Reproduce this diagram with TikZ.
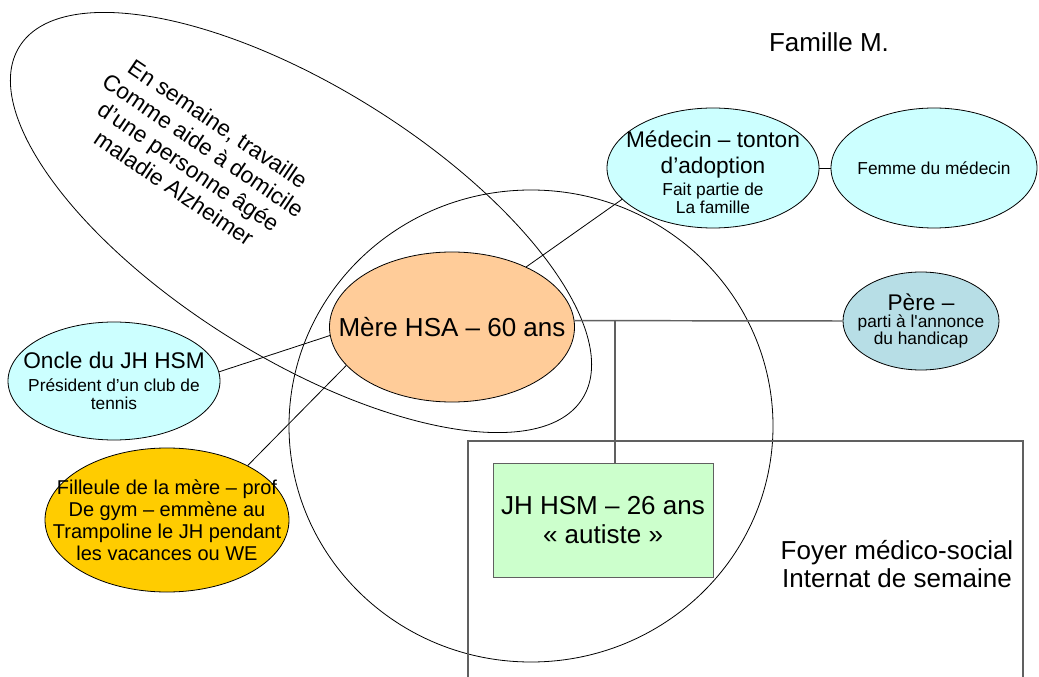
\documentclass[tikz,border=0pt]{standalone}
\usepackage{fontspec}
\setmainfont{Liberation Sans}
\usetikzlibrary{shapes.geometric}
\definecolor{skyfill}{RGB}{204,255,255}
\definecolor{perefill}{RGB}{183,222,230}
\definecolor{merefill}{RGB}{255,204,153}
\definecolor{goldfill}{RGB}{255,204,0}
\definecolor{jhfill}{RGB}{204,255,204}
\definecolor{wiregray}{RGB}{96,96,96}
\newcommand{\sz}[2]{\fontsize{#1}{#2}\selectfont}
\begin{document}
\begin{tikzpicture}[x=0.75pt, y=-0.75pt, line width=0.6pt,
    bubble/.style={ellipse, draw, fill=#1, inner sep=0pt},
    wire/.style={draw=wiregray, line width=1.1pt},
    every label/.style={align=center, inner sep=0pt}]
  \useasboundingbox (0,0) rectangle (1039,677);
  \node[ellipse, draw, rotate=-32, minimum width=498pt, minimum height=203pt] (semaine) at (301,222.5) {};
  \node[ellipse, draw, minimum width=363pt, minimum height=354pt] (home) at (531,426) {};
  \draw[wire] (468,690) |- (1023,441) -- (1023,690);
  \node (famille) at (829,42) {\sz{19.5}{23}Famille M.};
  \node[rotate=-34, align=center, font=\sz{17}{19.5}] (travail) at (196,156)
    {En semaine, travaille\\Comme aide à domicile\\d’une personne âgée\\maladie Alzheimer};
  \node[align=center, font=\sz{19.5}{21}] (foyer) at (897,564) {Foyer médico-social\\Internat de semaine};
  \node[bubble=merefill, minimum width=183.75pt, minimum height=112.5pt,
    label={[font=\sz{19.5}{23}]center:Mère HSA – 60 ans}] (mere) at (452,327) {};
  \node[bubble=skyfill, minimum width=159pt, minimum height=90pt,
    label={[font=\sz{13}{13}, yshift=-3pt]center:{\sz{17}{19.5}Médecin – tonton\\[6.5pt]\sz{17}{19.5}d’adoption\\[4pt]Fait partie de\\La famille}}] (medecin) at (713,168) {};
  \node[bubble=skyfill, minimum width=154.5pt, minimum height=90pt,
    label={[font=\sz{13}{15}]center:Femme du médecin}] (femme) at (934,168) {};
  \node[bubble=perefill, minimum width=117pt, minimum height=73.5pt,
    label={[font=\sz{13}{12.5}]center:{\sz{17}{19}Père –\\parti à l\textquotesingle annonce\\du handicap}}] (pere) at (921,321) {};
  \node[bubble=skyfill, minimum width=159pt, minimum height=88.5pt,
    label={[font=\sz{13}{13.5}]center:{\sz{17}{19}Oncle du JH HSM\\[3.5pt]Président d’un club de\\tennis}}] (oncle) at (114,381) {};
  \node[bubble=goldfill, minimum width=183pt, minimum height=108pt,
    label={[font=\sz{15}{16.5}]center:{Filleule de la mère – prof\\De gym – emmène au\\Trampoline le JH pendant\\les vacances ou WE}}] (filleule) at (167,520) {};
  \node[draw=wiregray, fill=jhfill, minimum width=165pt, minimum height=85.5pt,
    align=center, font=\sz{19.5}{22}] (jh) at (603,520) {JH HSM – 26 ans\\« autiste »};
  \coordinate (fork) at (615,320);
  \draw (medecin) -- (femme);
  \draw (medecin.199) -- (mere.39);
  \draw (oncle.5) -- (mere.184);
  \draw (filleule.34) -- (mere.200);
  \draw[wire] (mere.3) -- (pere.west);
  \draw[wire] (fork) -- (fork |- jh.north);
\end{tikzpicture}
\end{document}
